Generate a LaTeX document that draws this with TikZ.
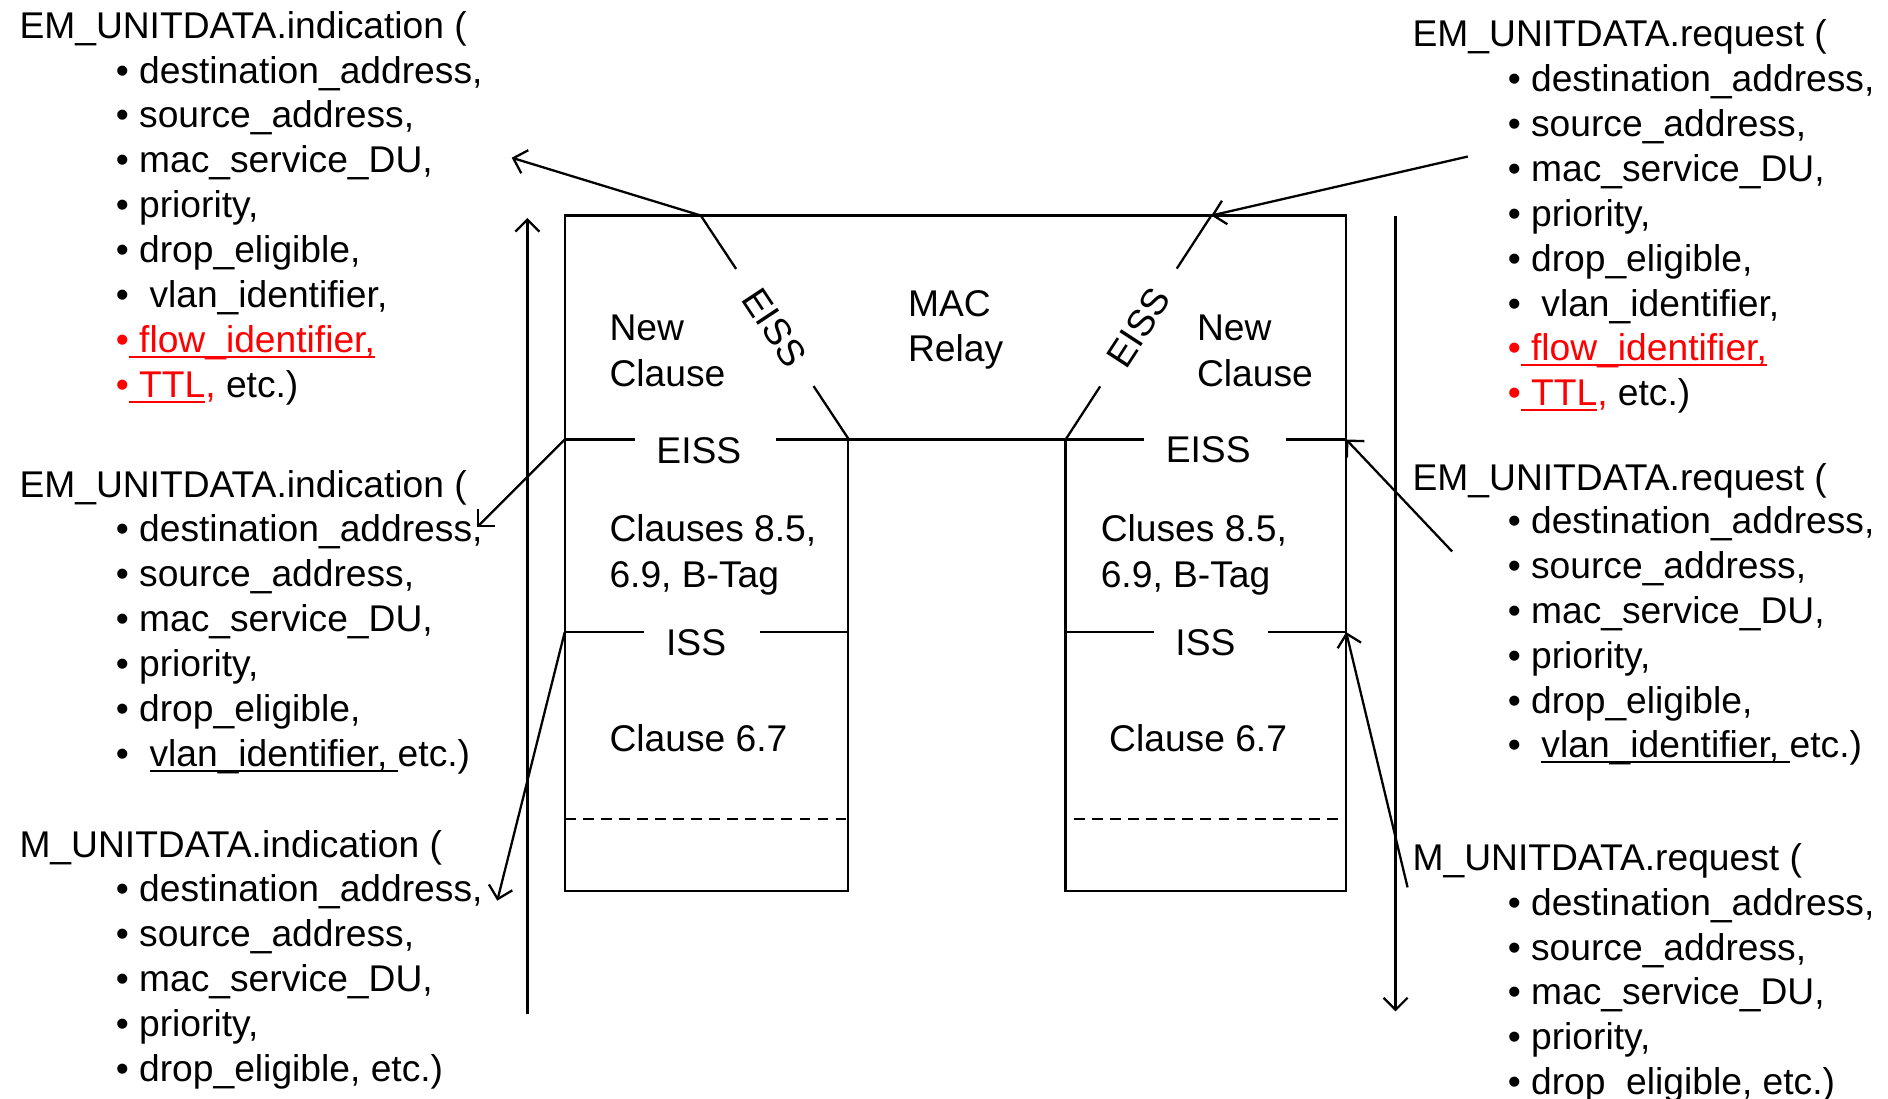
\documentclass[tikz,border=0pt]{standalone}
\usepackage{fontspec}
\setmainfont{Liberation Sans}
\usetikzlibrary{arrows.meta}
\newsavebox\ulbox
\newcommand\ulin[1]{\sbox\ulbox{#1}\rlap{\rule[-4.5pt]{\wd\ulbox}{1.7pt}}\usebox\ulbox}
\begin{document}
\begin{tikzpicture}[x=1pt,y=-1pt,
  txt/.style={font=\fontsize{30.9}{36}\selectfont,inner sep=0pt,anchor=base west},
  wire/.style={line width=1.9pt},
  arr/.style={wire,-{Straight Barb[length=10pt,width=20pt]}},
  gap/.style={txt,fill=white,inner xsep=18pt,inner ysep=2pt}]
\useasboundingbox (0,0) rectangle (1568,912);
% points on the two stacks
\coordinate (jl) at (582,179);
\coordinate (jr) at (1006,179);
\coordinate (le) at (469,365);
\coordinate (li) at (469,525);
\coordinate (re) at (1118,365);
\coordinate (ri) at (1118,525);
% free ends of the arrows
\coordinate (al1) at (425,131);
\coordinate (al2) at (396,438);
\coordinate (al3) at (413,748);
\coordinate (ar1) at (1219,130);
\coordinate (ar2) at (1206,458);
\coordinate (ar3) at (1169,737);
\coordinate (vlb) at (438,842);
\coordinate (vlt) at (438,181);
\coordinate (vrt) at (1159,179);
\coordinate (vrb) at (1159,840);

% frame of the bridge
\draw[wire] (469,740) -- (469,179) -- (1118,179) -- (1118,740) -- (885,740)
  -- (885,365) -- (704,365) -- (704,740) -- cycle;
\draw[wire] (le) -- (704,365);
\draw[wire] (885,365) -- (re);
\draw[wire] (li) -- (704,525);
\draw[wire] (885,525) -- (ri);
\draw[wire,dash pattern=on 9pt off 6pt] (469,680) -- (704,680);
\draw[wire,dash pattern=on 9pt off 6pt] (892,680) -- (1118,680);
\draw[wire] (jl) -- (705,365) node[midway,sloped,txt,anchor=center,fill=white,inner xsep=23pt,inner ysep=2pt] (eissDl) {EISS};
\draw[wire] (885,365) -- (jr) node[midway,sloped,txt,anchor=center,fill=white,inner xsep=23pt,inner ysep=2pt] (eissDr) {EISS};

% labels in the stacks
\node[gap] (eissL) at (527,385) {EISS\kern11pt};
\node[gap] (eissR) at (950,384) {EISS\kern11pt};
\node[gap] (issL) at (535,544) {ISS\kern10pt};
\node[gap] (issR) at (958,544) {ISS\kern9pt};
\node[txt] (newL1) at (506,283) {New};
\node[txt] (newL2) at (506,321) {Clause};
\node[txt] (newR1) at (994,283) {New};
\node[txt] (newR2) at (994,321) {Clause};
\node[txt] (mac1) at (754,263) {MAC};
\node[txt] (mac2) at (754,300) {Relay};
\node[txt] (clL1) at (506,450) {Clauses 8.5,};
\node[txt] (clL2) at (506,488) {6.9, B-Tag};
\node[txt] (clR1) at (914,450) {Cluses 8.5,};
\node[txt] (clR2) at (914,488) {6.9, B-Tag};
\node[txt] (c67L) at (506,624) {Clause 6.7};
\node[txt] (c67R) at (921,624) {Clause 6.7};

% left column
\node[txt] (emInd) at (16,32) {EM\_UNITDATA.indication (};
\foreach \t [count=\i] in {{destination\_address,},{source\_address,},{mac\_service\_DU,},{priority,},{drop\_eligible,},{\ vlan\_identifier,}}
  \node[txt] (emIndi\i) at (96,{69+37.3*(\i-1)}) {\textbullet\ \t};
\node[txt,red] (emIndi7) at (96,292.8) {\textbullet\ulin{\ flow\_identifier,}};
\node[txt] (emIndi8) at (96,330.1) {\textcolor{red}{\textbullet\ulin{\ TTL},} etc.)};

\node[txt] (emIndB) at (16,413) {EM\_UNITDATA.indication (};
\foreach \t [count=\i] in {{destination\_address,},{source\_address,},{mac\_service\_DU,},{priority,},{drop\_eligible,},{\ \ulin{vlan\_identifier,\ }etc.)}}
  \node[txt] (emIndBi\i) at (96,{450+37.3*(\i-1)}) {\textbullet\ \t};

\node[txt] (mInd) at (16,712) {M\_UNITDATA.indication (};
\foreach \t [count=\i] in {{destination\_address,},{source\_address,},{mac\_service\_DU,},{priority,},{drop\_eligible, etc.)}}
  \node[txt] (mIndi\i) at (96,{749+37.3*(\i-1)}) {\textbullet\ \t};

% right column
\node[txt] (emReq) at (1173,39) {EM\_UNITDATA.request (};
\foreach \t [count=\i] in {{destination\_address,},{source\_address,},{mac\_service\_DU,},{priority,},{drop\_eligible,},{\ vlan\_identifier,}}
  \node[txt] (emReqi\i) at (1252,{76+37.3*(\i-1)}) {\textbullet\ \t};
\node[txt,red] (emReqi7) at (1252,299.8) {\textbullet\ulin{\ flow\_identifier,}};
\node[txt] (emReqi8) at (1252,337.1) {\textcolor{red}{\textbullet\ulin{\ TTL},} etc.)};

\node[txt] (emReqB) at (1173,407) {EM\_UNITDATA.request (};
\foreach \t [count=\i] in {{destination\_address,},{source\_address,},{mac\_service\_DU,},{priority,},{drop\_eligible,},{\ \ulin{vlan\_identifier,\ }etc.)}}
  \node[txt] (emReqBi\i) at (1252,{443+37.3*(\i-1)}) {\textbullet\ \t};

\node[txt] (mReq) at (1173,723) {M\_UNITDATA.request (};
\foreach \t [count=\i] in {{destination\_address,},{source\_address,},{mac\_service\_DU,},{priority,},{drop\_eligible, etc.)}}
  \node[txt] (mReqi\i) at (1252,{760+37.3*(\i-1)}) {\textbullet\ \t};

% primitives
\draw[arr] (jl) -- (al1);
\draw[arr] (le) -- (al2);
\draw[arr] (li) -- (al3);
\draw[arr] (vlb) -- (vlt);
\draw[arr] (ar1) -- (jr);
\draw[arr] (ar2) -- (re);
\draw[arr] (ar3) -- (ri);
\draw[arr] (vrt) -- (vrb);
\end{tikzpicture}
\end{document}
